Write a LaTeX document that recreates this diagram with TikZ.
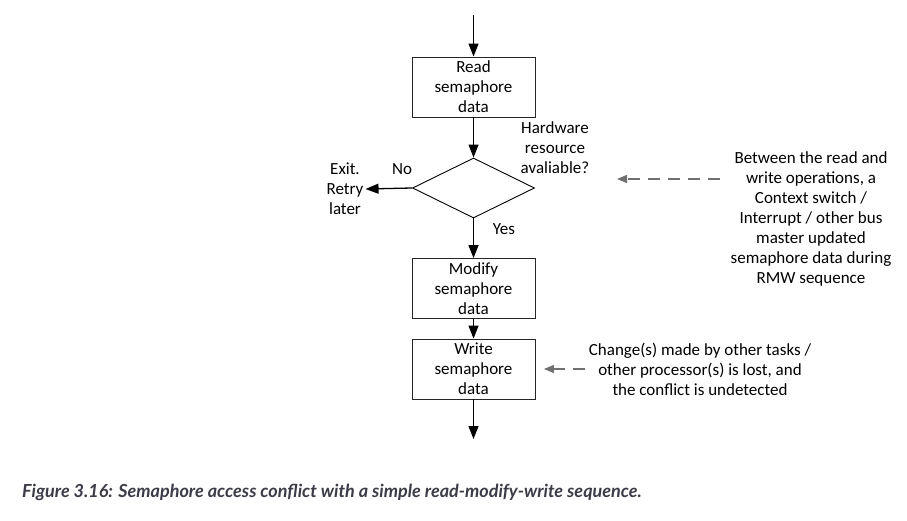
\documentclass[tikz,border=0pt]{standalone}
\usepackage{fontspec}
\setmainfont{Carlito}
\newfontfamily\capfont{Lato}
\usetikzlibrary{shapes.geometric, arrows.meta}
\definecolor{capgray}{RGB}{60,60,72}
\definecolor{notegray}{RGB}{112,112,112}

\begin{document}
\begin{tikzpicture}[x=1pt, y=-1pt,
  step box/.style={rectangle, draw=black!85, line width=0.9pt, minimum width=123pt, minimum height=60pt, inner sep=0pt, align=center},
  txt/.style={align=center, inner sep=2pt},
  flow/.style={-{Triangle[length=13pt, width=10pt]}, line width=1.3pt},
  note arrow/.style={-{Triangle[length=10pt, width=8pt]}, notegray, line width=1.3pt, dash pattern=on 12pt off 8pt}]
\useasboundingbox (0,0) rectangle (907,521);
\fontsize{17}{20}\selectfont

\coordinate (start) at (473.5,15);
\node[step box] (read) at (473.5,87) {Read\\semaphore\\data};
\node[diamond, draw=black, line width=0.9pt, minimum width=122pt, minimum height=60pt, aspect=2.03, inner sep=0pt] (dec) at (473.5,188) {};
\node[step box] (modify) at (473.5,288.5) {Modify\\semaphore\\data};
\node[step box] (write) at (473.5,369) {Write\\semaphore\\data};
\coordinate (stop) at (473.5,439);

\node[txt] (exit) at (345,189) {Exit.\\Retry\\later};
\node[txt] (no) at (402,169) {No};
\node[txt] (yes) at (504,229) {Yes};
\node[txt] (hw) at (555,148) {Hardware\\resource\\avaliable?};

\node[txt] (note1) at (811,219) {Between the read and\\write operations, a\\Context switch /\\Interrupt / other bus\\master updated\\semaphore data during\\RMW sequence};
\node[txt, inner sep=4pt] (note2) at (700,369) {Change(s) made by other tasks /\\other processor(s) is lost, and\\the conflict is undetected};
\coordinate (tip1) at (617,179);

\draw[flow] (start) -- (read);
\draw[flow] (read) -- (dec);
\draw[flow] (dec.west) -- (exit.east);
\draw[flow] (dec.south) -- (modify);
\draw[flow] (modify) -- (write);
\draw[flow] (write) -- (stop);

\draw[note arrow] ([xshift=-8pt]note1.west |- tip1) -- (tip1);
\draw[note arrow] (note2.west) -- ([xshift=8.5pt]write.east);

\node[anchor=west, inner sep=0pt, font=\capfont\bfseries\itshape\fontsize{18}{22}\selectfont, text=capgray] (caption) at (22,492) {Figure 3.16: Semaphore access conflict with a simple read-modify-write sequence.};
\end{tikzpicture}
\end{document}
